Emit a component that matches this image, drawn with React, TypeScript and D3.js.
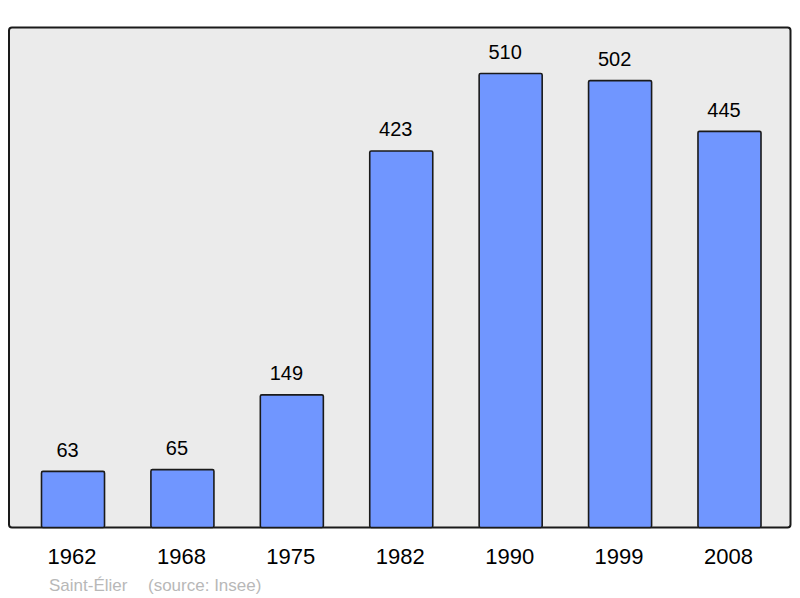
import React from "react";
import * as d3 from "d3";

const years = ["1962", "1968", "1975", "1982", "1990", "1999", "2008"];
const population = [63, 65, 149, 423, 510, 502, 445];
const placeName = "Saint-Élier";
const sourceText = "(source: Insee)";

export default function App() {
  const W = 800, H = 598;
  const x = d3.scaleBand<string>().domain(years).range([18.3, 784.2]).paddingInner(0.424).paddingOuter(0.212);
  const y = d3.scaleLinear().domain([0, 510]).range([527.5, 73.5]);
  const font = "'Liberation Sans', Arial, sans-serif";
  return (
    <svg width={W} height={H} style={{ position: "absolute", left: 0, top: 0 }} fontFamily={font}>
      <rect x={9} y={27.5} width={781.5} height={500} rx={3} ry={3} fill="#ebebeb" stroke="#1a1a1a" strokeWidth={2} />
      {years.map((yr, i) => {
        const v = population[i];
        const bx = x(yr)!;
        const bw = x.bandwidth();
        return (
          <g key={yr}>
            <rect x={bx} y={y(v)} width={bw} height={y(0) - y(v)} rx={1.5} ry={1.5} fill="#7096ff" stroke="#1a1a1a" strokeWidth={1.6} />
            <text x={bx + bw / 2 - 5.5} y={y(v) - 14.5} textAnchor="middle" fontSize={20} fill="#000">{v}</text>
            <text x={bx + bw / 2 - 1} y={564} textAnchor="middle" fontSize={22} fill="#000">{yr}</text>
          </g>
        );
      })}
      <text x={49} y={591} fontSize={17} fill="#b8b8b8">{placeName}</text>
      <text x={148} y={591} fontSize={17} fill="#b8b8b8">{sourceText}</text>
    </svg>
  );
}
